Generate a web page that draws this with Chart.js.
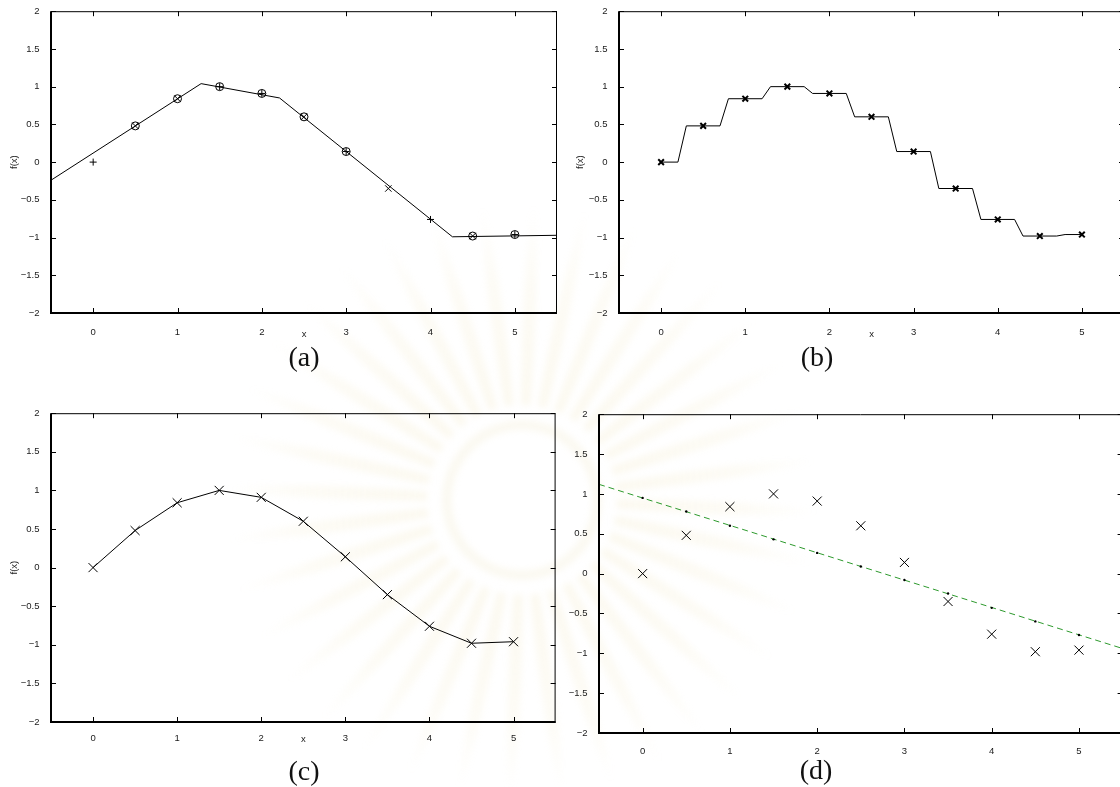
<!DOCTYPE html>
<html>
<head>
<meta charset="utf-8">
<script src="https://cdn.jsdelivr.net/npm/chart.js@4.4.0/dist/chart.umd.min.js"></script>
<style>
  html, body { margin: 0; padding: 0; background: #fff; width: 1120px; height: 787px; overflow: hidden; position: relative; }
  canvas { position: absolute; }
  #bg { filter: blur(3px); }
  .cap { position: absolute; font-family: "Liberation Serif", "DejaVu Serif", serif; font-size: 28px; color: #111;
         transform: translate(-50%, -50%); white-space: nowrap; line-height: 1; }
</style>
</head>
<body>
<canvas id="bg" width="1120" height="787" style="left:0;top:0"></canvas>
<canvas id="pa"></canvas>
<canvas id="pb"></canvas>
<canvas id="pc"></canvas>
<canvas id="pd"></canvas>
<div class="cap" style="left:304px;top:357px">(a)</div>
<div class="cap" style="left:817px;top:357px">(b)</div>
<div class="cap" style="left:304px;top:771px">(c)</div>
<div class="cap" style="left:816px;top:770px">(d)</div>
<script>
// sample points shared by all four panels
const sampleX = [0, 0.5, 1, 1.5, 2, 2.5, 3, 3.5, 4, 4.5, 5];
const sampleY = [0, 0.48, 0.84, 1.0, 0.91, 0.60, 0.14, -0.35, -0.76, -0.98, -0.96];

// axis ticks
const xTickVals = [0, 1, 2, 3, 4, 5];
const yTickVals = [-2, -1.5, -1, -0.5, 0, 0.5, 1, 1.5, 2];

// (a) piecewise-linear fit and marker groups (indices into the samples)
const fitAX = [-0.5, 1.28, 2.21, 4.26, 5.5];
const fitAY = [-0.24, 1.04, 0.85, -0.99, -0.97];
const plusIdxA = [0, 3, 4, 6, 8, 10];
const crossIdxA = [1, 2, 5, 7, 9];
const circleIdxA = [1, 2, 3, 4, 5, 6, 9, 10];

// (b) staircase interpolation
const stepBX = [0, 0.2, 0.3, 0.7, 0.8, 1.2, 1.3, 1.7, 1.8, 2.2, 2.3, 2.7, 2.8, 3.2, 3.3, 3.7, 3.8, 4.2, 4.3, 4.7, 4.8, 5];
const stepBY = [0, 0, 0.48, 0.48, 0.84, 0.84, 1.0, 1.0, 0.91, 0.91, 0.60, 0.60, 0.14, 0.14, -0.35, -0.35, -0.76, -0.76, -0.98, -0.98, -0.96, -0.96];

// (d) straight-line fit
const fitDX = [-0.5, 5.5];
const fitDY = [1.12, -0.94];
const fitDAtSamples = [0.95, 0.78, 0.60, 0.43, 0.26, 0.09, -0.08, -0.25, -0.43, -0.60, -0.77];

const pts = (xs, ys) => xs.map((x, i) => ({ x: x, y: ys[i] }));
const pick = idx => idx.map(i => ({ x: sampleX[i], y: sampleY[i] }));

// faint emblem in the page background
(function drawBackground() {
  const c = document.getElementById('bg').getContext('2d');
  const cx = 522, cy = 500;
  const n = 36;
  for (let i = 0; i < n; i++) {
    const a = (i / n) * Math.PI * 2 + 0.04;
    const g = c.createRadialGradient(cx, cy, 90, cx, cy, 300);
    g.addColorStop(0, 'rgba(240,228,185,0.22)');
    g.addColorStop(0.6, 'rgba(240,228,185,0.14)');
    g.addColorStop(1, 'rgba(240,228,185,0.0)');
    c.fillStyle = g;
    c.beginPath();
    const w = 0.05;
    c.moveTo(cx + Math.cos(a - w) * 95, cy + Math.sin(a - w) * 95);
    c.quadraticCurveTo(cx + Math.cos(a - w * 0.8) * 240, cy + Math.sin(a - w * 0.8) * 240,
                       cx + Math.cos(a) * 300, cy + Math.sin(a) * 300);
    c.quadraticCurveTo(cx + Math.cos(a + w * 0.8) * 240, cy + Math.sin(a + w * 0.8) * 240,
                       cx + Math.cos(a + w) * 95, cy + Math.sin(a + w) * 95);
    c.closePath();
    c.fill();
  }
  c.strokeStyle = 'rgba(236,224,186,0.2)';
  c.lineWidth = 10;
  c.beginPath(); c.arc(cx, cy, 75, 0, Math.PI * 2); c.stroke();
})();

const tickFont = { family: '"Liberation Sans", Arial, sans-serif', size: 9.5 };
const textColor = '#1a1a1a';
const fmt = v => String(v).replace('-', '\u2212');

// box with inward tick marks on all four sides
const framePlugin = {
  id: 'frame',
  afterDraw(chart) {
    const { ctx, chartArea: a, scales: { x, y } } = chart;
    ctx.save();
    ctx.strokeStyle = '#000';
    ctx.lineWidth = 1;
    ctx.beginPath();
    xTickVals.forEach(v => {
      const px = Math.round(x.getPixelForValue(v)) + 0.5;
      ctx.moveTo(px, a.bottom); ctx.lineTo(px, a.bottom - 5);
      ctx.moveTo(px, a.top); ctx.lineTo(px, a.top + 5);
    });
    yTickVals.forEach(v => {
      const py = Math.round(y.getPixelForValue(v)) + 0.5;
      ctx.moveTo(a.left, py); ctx.lineTo(a.left + 5, py);
      ctx.moveTo(a.right, py); ctx.lineTo(a.right - 5, py);
    });
    ctx.stroke();
    ctx.beginPath();
    ctx.moveTo(a.left, a.top + 0.5); ctx.lineTo(a.right - 0.5, a.top + 0.5); ctx.lineTo(a.right - 0.5, a.bottom);
    ctx.stroke();
    ctx.lineWidth = 2;
    ctx.beginPath();
    ctx.moveTo(a.left, a.top); ctx.lineTo(a.left, a.bottom); ctx.lineTo(a.right, a.bottom);
    ctx.stroke();
    ctx.restore();
  }
};

function makePanel(id, geo, datasets) {
  const YW = 50, XH = 32, PT = 8, PR = 6;
  const cv = document.getElementById(id);
  cv.width = geo.right - geo.left + YW + PR;
  cv.height = geo.bottom - geo.top + PT + XH;
  cv.style.left = (geo.left - YW) + 'px';
  cv.style.top = (geo.top - PT) + 'px';
  new Chart(cv, {
    type: 'scatter',
    data: { datasets: datasets },
    options: {
      responsive: false, animation: false, devicePixelRatio: 1,
      layout: { padding: { top: PT, right: PR, left: 0, bottom: 0 } },
      plugins: { legend: { display: false }, tooltip: { enabled: false } },
      scales: {
        x: {
          type: 'linear', min: -0.5, max: 5.5,
          afterBuildTicks: s => { s.ticks = xTickVals.map(v => ({ value: v })); },
          afterFit: s => { s.height = XH; },
          grid: { display: false }, border: { display: false },
          ticks: { padding: geo.xPad, font: tickFont, color: textColor, callback: fmt, maxRotation: 0, autoSkip: false },
          title: { display: !!geo.xTitle, text: 'x', font: tickFont, color: textColor,
                   padding: { top: 0, bottom: geo.xTitlePad || 0 } }
        },
        y: {
          type: 'linear', min: -2, max: 2,
          afterBuildTicks: s => { s.ticks = yTickVals.map(v => ({ value: v })); },
          afterFit: s => { s.width = YW; },
          grid: { display: false }, border: { display: false },
          ticks: { padding: 3.5, font: tickFont, color: textColor, callback: fmt, autoSkip: false },
          title: { display: !!geo.yTitle, text: 'f(x)', font: tickFont, color: textColor,
                   padding: { top: geo.yTitlePad || 0, bottom: 0 } }
        }
      }
    },
    plugins: [framePlugin]
  });
}

// lines sit underneath the markers (higher order is drawn first)
const lineDs = (data, extra) => Object.assign({
  data: data, showLine: true, borderColor: '#000', borderWidth: 1, pointRadius: 0, fill: false, tension: 0, order: 5
}, extra || {});
const markDs = (data, style, r, bw, fillColor) => ({
  data: data, showLine: false, pointStyle: style, pointRadius: r, pointBorderColor: '#000',
  pointBackgroundColor: fillColor || 'rgba(0,0,0,0)', pointBorderWidth: bw, order: 1
});

makePanel('pa', { left: 51, right: 557, top: 10, bottom: 313, xPad: 5.5, xTitle: true, xTitlePad: 4.6, yTitle: true, yTitlePad: 7.6 }, [
  lineDs(pts(fitAX, fitAY)),
  markDs(pick(circleIdxA), 'circle', 4, 1),
  markDs(pick(plusIdxA), 'cross', 3.5, 1),
  markDs(pick(crossIdxA), 'crossRot', 4.5, 1)
]);

makePanel('pb', { left: 619, right: 1124, top: 10, bottom: 313, xPad: 5.5, xTitle: true, xTitlePad: 4.6, yTitle: true, yTitlePad: 5.6 }, [
  lineDs(pts(stepBX, stepBY)),
  markDs(pts(sampleX, sampleY), 'crossRot', 4, 2)
]);

makePanel('pc', { left: 51, right: 557, top: 412, bottom: 722, xPad: 3, xTitle: true, xTitlePad: 8.6, yTitle: true, yTitlePad: 7.6 }, [
  lineDs(pts(sampleX, sampleY)),
  markDs(pts(sampleX, sampleY), 'crossRot', 6.4, 1)
]);

makePanel('pd', { left: 599, right: 1124, top: 413, bottom: 733, xPad: 4.7 }, [
  lineDs(pts(fitDX, fitDY), { borderColor: '#2e9a2e', borderDash: [6, 4] }),
  markDs(pts(sampleX, fitDAtSamples), 'circle', 1.2, 0, '#000'),
  markDs(pts(sampleX, sampleY), 'crossRot', 6.4, 1)
]);
</script>
</body>
</html>
